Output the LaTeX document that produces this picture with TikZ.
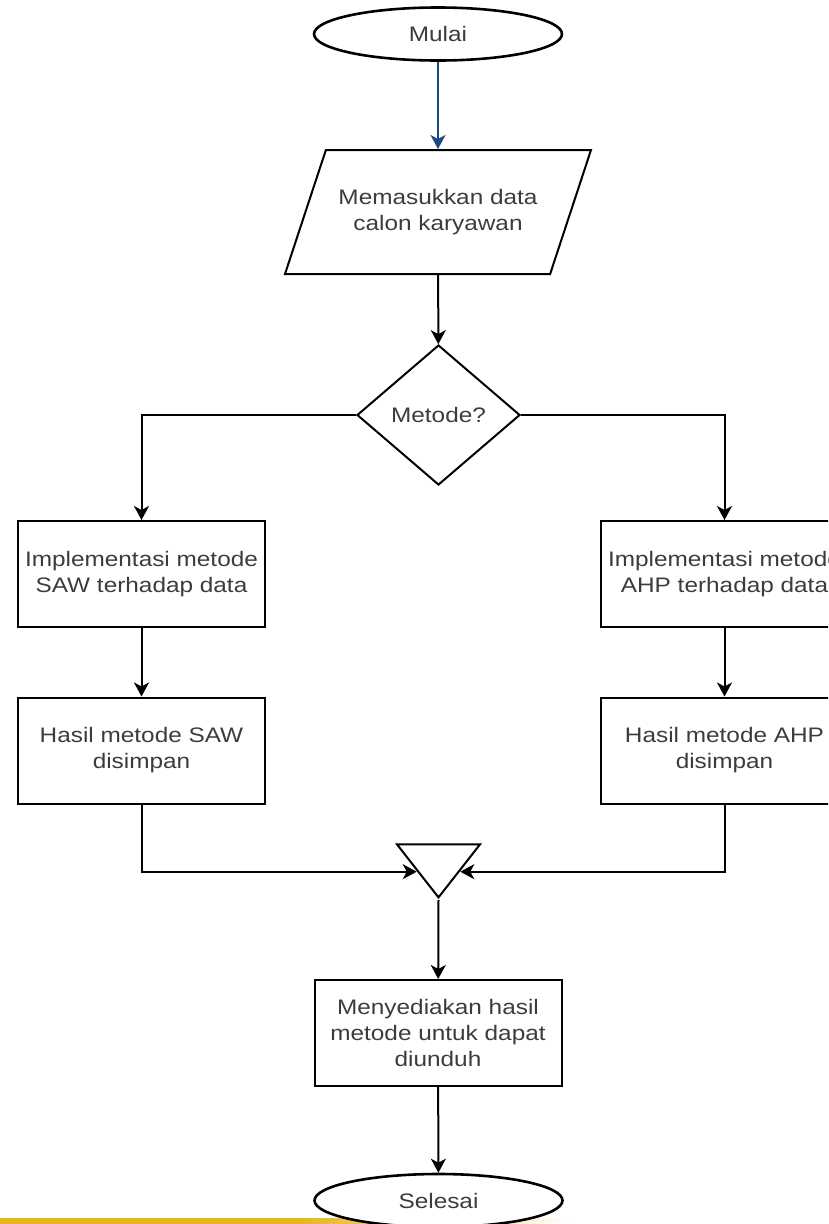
\documentclass[tikz,border=0pt]{standalone}
\usepackage{fontspec}
\setmainfont{Liberation Sans}[FakeStretch=1.16]
\usetikzlibrary{shapes.geometric,arrows.meta}
\definecolor{txt}{RGB}{60,60,60}
\definecolor{flowblue}{RGB}{28,74,128}
\definecolor{gold}{RGB}{230,182,30}
\begin{document}
\begin{tikzpicture}[x=1pt,y=-1pt,
  every node/.style={font=\fontsize{21}{26}\selectfont, text=txt, align=center, inner sep=0pt},
  terminal/.style={draw=black, ellipse, line width=2.6pt, fill=white, minimum width=248pt, minimum height=53pt},
  io/.style={draw, trapezium, trapezium left angle=71.7, trapezium right angle=108.3,
    trapezium stretches body, inner xsep=0pt, inner ysep=39pt,
    minimum width=306pt, minimum height=124pt, line width=2pt},
  decision/.style={draw, diamond, minimum width=163pt, minimum height=140pt, line width=2pt},
  process/.style={draw, rectangle, minimum width=247pt, minimum height=106pt, line width=2pt},
  merge/.style={draw, isosceles triangle, isosceles triangle stretches, shape border rotate=270,
    minimum width=83pt, minimum height=53pt, line width=2pt},
  flow/.style={draw, line width=2pt, -{Stealth[length=14pt,width=15pt,inset=4pt]}},
]
\useasboundingbox (0,0) rectangle (828,1224);
\clip (0,0) rectangle (828,1224);

% footer stripe
\fill[gold] (0,1218) rectangle (300,1224);
\shade[left color=gold, right color=white] (300,1218) rectangle (570,1224);

% nodes
\node[terminal] (start) at (438,34) {Mulai};
\node[io] (input) at (438,212) {Memasukkan data\\calon karyawan};
\node[decision] (dec) at (438.5,415) {Metode?};
\node[process] (saw) at (141.5,574) {Implementasi metode\\SAW terhadap data};
\node[process] (ahp) at (724.5,574) {Implementasi metode\\AHP terhadap data};
\node[process] (sawres) at (141.5,750.5) {Hasil metode SAW\\disimpan};
\node[process] (ahpres) at (724.5,750.5) {Hasil metode AHP\\disimpan};
\node[merge, anchor=apex] (mg) at (438.5,900) {};
\node[process] (final) at (438,1033) {Menyediakan hasil\\metode untuk dapat\\diunduh};
\node[terminal] (stop) at (438.5,1200.5) {Selesai};

% connectors
\draw[flow, draw=flowblue] (start) -- (input);
\draw[flow] (input) -- (dec);
\draw[flow] (dec.west) -| (saw.north);
\draw[flow] (dec.east) -| (ahp.north);
\draw[flow] (saw) -- (sawres);
\draw[flow] (ahp) -- (ahpres);
\draw[flow] (sawres.south) |- (mg.right side);
\draw[flow] (ahpres.south) |- (mg.left side);
\draw[flow] (mg.apex) -- (final);
\draw[flow] (final) -- (stop);
\end{tikzpicture}
\end{document}
